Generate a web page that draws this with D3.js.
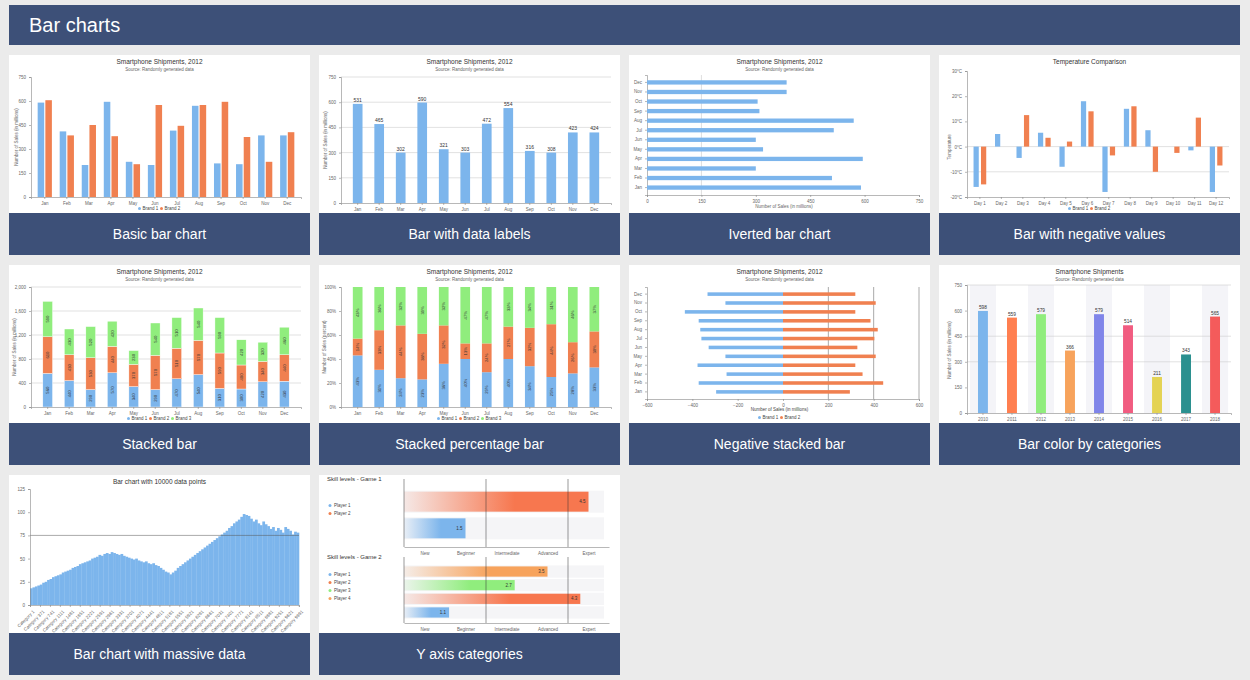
<!DOCTYPE html>
<html><head><meta charset="utf-8">
<script src="https://cdn.jsdelivr.net/npm/d3@7"></script>
<style>
body{margin:0;background:#ebebeb;font-family:"Liberation Sans",Arial,sans-serif}
svg text{font-family:"Liberation Sans",Arial,sans-serif}
.axis text{font-size:4.5px;fill:#666}
.axis path,.axis line{stroke:#888;stroke-width:.6}
</style></head><body>
<svg id="page" width="1250" height="680"></svg>
<script>
const months = ['Jan','Feb','Mar','Apr','May','Jun','Jul','Aug','Sep','Oct','Nov','Dec'];
const basicB1 = [590,410,200,595,220,200,415,570,210,205,385,385];
const basicB2 = [605,385,450,380,205,575,445,575,595,375,220,405];
const labelVals = [590,470,300,598,320,300,472,565,310,300,420,420];
const labelText = [531,465,302,590,321,303,472,554,316,308,423,424];
const invVals = [590,510,300,595,320,300,515,570,310,305,385,385];
const days = ['Day 1','Day 2','Day 3','Day 4','Day 5','Day 6','Day 7','Day 8','Day 9','Day 10','Day 11','Day 12'];
const tempB1 = [-16,5,-4.5,5.5,-8,18,-18,15,6.5,0,-1.5,-18];
const tempB2 = [-15,0,12.5,3.5,2,14,-3.5,16,-10,-2.5,11.5,-7.5];
const stackB1 = [560,440,290,570,340,290,470,540,310,300,420,430];
const stackB2 = [610,430,530,440,370,570,510,570,590,400,340,440];
const stackB3 = [590,430,520,420,230,540,510,540,590,420,320,460];
const pctB1 = [43,31,24,23,36,40,29,40,34,25,28,33];
const pctB2 = [14,33,44,38,32,13,24,27,32,44,26,30];
const pctB3 = [43,36,32,39,32,47,47,33,34,31,46,37];
const negB1 = [-295,-372,-249,-377,-254,-328,-360,-365,-372,-433,-254,-333];
const negB2 = [295,442,351,319,409,328,403,418,386,319,409,319];
const years = ['2010','2011','2012','2013','2014','2015','2016','2017','2018'];
const yearVals = [598,559,579,366,579,514,211,343,565];
const yearColors = ['#7cb5ec','#ff7f50','#90ed7d','#f7a35c','#8085e9','#f15c80','#e4d354','#2b908f','#f45b5b'];
const massive = [18,19,20,21,22,24,25,27,28,30,31,32,33,35,36,37,38,40,41,42,44,45,46,47,48,50,51,52,54,53,55,56,55,57,56,55,54,55,53,52,51,50,49,50,48,47,46,47,45,44,45,43,42,40,38,36,35,33,35,37,40,42,44,46,48,50,52,54,56,58,60,62,64,66,68,70,72,74,76,78,80,83,85,88,90,92,95,98,97,96,93,90,92,88,86,90,87,85,82,84,80,83,81,78,84,82,80,76,79,78];
const skillLevels = ['New','Beginner','Intermediate','Advanced','Expert'];
const game1 = [4.5,1.5];
const game1Colors = ['#f7774f','#7cb5ec'];
const game2 = [3.5,2.7,4.3,1.1];
const game2Colors = ['#f7a35c','#90ed7d','#f7774f','#7cb5ec'];
const cardLabels = ['Basic bar chart','Bar with data labels','Iverted bar chart','Bar with negative values','Stacked bar','Stacked percentage bar','Negative stacked bar','Bar color by categories','Bar chart with massive data','Y axis categories'];

const BLUE = '#7cb5ec', ORANGE = '#f08050', GREEN = '#90ed7d', HEAD = '#3d5078';
const colX = [9,319,629,939], rowY = [55,265,475], CW = 301, CH = 158;
const svg = d3.select('#page');

svg.append('rect').attr('x',9).attr('y',5).attr('width',1231).attr('height',40).attr('fill',HEAD);
svg.append('text').attr('x',29).attr('y',32).attr('fill','#fff').attr('font-size',20).text('Bar charts');

function card(i) {
  const x = colX[i % 4], y = rowY[Math.floor(i / 4)];
  const g = svg.append('g').attr('transform', `translate(${x},${y})`);
  g.append('rect').attr('width',CW).attr('height',CH).attr('fill','#fff');
  g.append('rect').attr('y',CH).attr('width',CW).attr('height',42).attr('fill',HEAD);
  g.append('text').attr('x',CW/2).attr('y',CH+26).attr('text-anchor','middle').attr('fill','#fff')
    .attr('font-size',14).text(cardLabels[i]);
  return g;
}
function titles(g, t, sub) {
  g.append('text').attr('x',CW/2).attr('y',9).attr('text-anchor','middle').attr('font-size',6.5).attr('fill','#333').text(t);
  if (sub) g.append('text').attr('x',CW/2).attr('y',16).attr('text-anchor','middle').attr('font-size',4.5).attr('fill','#666').text(sub);
}
function yTitle(g, x, y, t) {
  g.append('text').attr('transform',`translate(${x},${y}) rotate(-90)`).attr('text-anchor','middle')
    .attr('font-size',4.5).attr('fill','#666').text(t);
}
function grid(g, y, ticks, x0, x1) {
  g.selectAll(null).data(ticks).join('line').attr('x1',x0).attr('x2',x1)
    .attr('y1',d=>y(d)).attr('y2',d=>y(d)).attr('stroke','#ccc').attr('stroke-width',.6);
}
function legend(g, cx, y, names, colors) {
  const w = 22;
  names.forEach((n, k) => {
    const lx = cx - names.length * w / 2 + k * w;
    g.append('circle').attr('cx',lx+2).attr('cy',y-1.5).attr('r',1.5).attr('fill',colors[k]);
    g.append('text').attr('x',lx+5).attr('y',y).attr('font-size',4.5).attr('fill','#444').text(n);
  });
}
const SUB = 'Source: Randomly generated data';
const TITLE = 'Smartphone Shipments, 2012';
const YT = 'Number of Sales (in millions)';

// 1 basic
{
  const g = card(0); titles(g, TITLE, SUB);
  const x = d3.scaleBand().domain(months).range([22,292]).padding(0.25);
  const y = d3.scaleLinear().domain([0,750]).range([142,22]);
  g.append('g').attr('class','axis').attr('transform','translate(0,142)').call(d3.axisBottom(x).tickSize(2));
  g.append('g').attr('class','axis').attr('transform','translate(22,0)').call(d3.axisLeft(y).tickValues([0,150,300,450,600,750]).tickSize(2));
  const xs = d3.scaleBand().domain([0,1]).range([0,x.bandwidth()]).padding(0.15);
  [basicB1,basicB2].forEach((s,k)=>g.selectAll(null).data(s).join('rect')
    .attr('x',(d,i)=>x(months[i])+xs(k)).attr('width',xs.bandwidth())
    .attr('y',d=>y(d)).attr('height',d=>142-y(d)).attr('fill',k?ORANGE:BLUE));
  yTitle(g,9,82,YT); legend(g,CW/2,155,['Brand 1','Brand 2'],[BLUE,ORANGE]);
}
// 2 data labels
{
  const g = card(1); titles(g, TITLE, SUB);
  const x = d3.scaleBand().domain(months).range([22,292]).padding(0.55);
  const y = d3.scaleLinear().domain([0,750]).range([148,22]);
  grid(g,y,[150,300,450,600,750],22,292);
  g.append('g').attr('class','axis').attr('transform','translate(0,148)').call(d3.axisBottom(x).tickSize(2));
  g.append('g').attr('class','axis').attr('transform','translate(22,0)').call(d3.axisLeft(y).tickValues([0,150,300,450,600,750]).tickSize(2));
  g.selectAll(null).data(labelVals).join('rect').attr('x',(d,i)=>x(months[i])).attr('width',x.bandwidth())
    .attr('y',d=>y(d)).attr('height',d=>148-y(d)).attr('fill',BLUE);
  g.selectAll(null).data(labelVals).join('text').attr('x',(d,i)=>x(months[i])+x.bandwidth()/2).attr('y',d=>y(d)-2)
    .attr('text-anchor','middle').attr('font-size',5).attr('fill','#333').text((d,i)=>labelText[i]);
  yTitle(g,8,85,YT);
}
// 3 inverted
{
  const g = card(2); titles(g, TITLE, SUB);
  const y = d3.scaleBand().domain(months).range([140,20]).padding(0.55);
  const x = d3.scaleLinear().domain([0,750]).range([18,290]);
  g.selectAll(null).data([150]).join('line').attr('x1',x).attr('x2',x).attr('y1',20).attr('y2',140).attr('stroke','#bbb').attr('stroke-width',.5);
  g.append('g').attr('class','axis').attr('transform','translate(0,140)').call(d3.axisBottom(x).tickValues([0,150,300,450,600,750]).tickSize(2));
  g.append('g').attr('class','axis').attr('transform','translate(18,0)').call(d3.axisLeft(y).tickSize(2));
  g.selectAll(null).data(invVals).join('rect').attr('y',(d,i)=>y(months[i])).attr('height',y.bandwidth())
    .attr('x',x(0)).attr('width',d=>x(d)-x(0)).attr('fill',BLUE);
  g.append('text').attr('x',155).attr('y',153).attr('text-anchor','middle').attr('font-size',4.5).attr('fill','#666').text(YT);
}
// 4 negative
{
  const g = card(3); titles(g,'Temperature Comparison');
  const x = d3.scaleBand().domain(days).range([28,290]).padding(0.2);
  const y = d3.scaleLinear().domain([-20,30]).range([142,16]);
  grid(g,y,[0,-10],28,290);
  g.append('g').attr('class','axis').attr('transform','translate(0,142)').call(d3.axisBottom(x).tickSize(2));
  g.append('g').attr('class','axis').attr('transform','translate(28,0)').call(d3.axisLeft(y).ticks(5).tickFormat(d=>d+'°C').tickSize(2));
  const xs = d3.scaleBand().domain([0,1]).range([0,x.bandwidth()]).padding(0.3);
  [tempB1,tempB2].forEach((s,k)=>g.selectAll(null).data(s).join('rect')
    .attr('x',(d,i)=>x(days[i])+xs(k)).attr('width',xs.bandwidth())
    .attr('y',d=>y(Math.max(0,d))).attr('height',d=>Math.abs(y(d)-y(0))).attr('fill',k?ORANGE:BLUE));
  yTitle(g,12,92,'Temperature'); legend(g,CW/2,155,['Brand 1','Brand 2'],[BLUE,ORANGE]);
}
// 5 stacked
{
  const g = card(4); titles(g, TITLE, SUB);
  const x = d3.scaleBand().domain(months).range([22,292]).padding(0.55);
  const y = d3.scaleLinear().domain([0,2000]).range([142,22]);
  grid(g,y,[400,800,1200,1600,2000],22,292);
  const rows = months.map((m,i)=>({m,a:stackB1[i],b:stackB2[i],c:stackB3[i]}));
  const st = d3.stack().keys(['a','b','c'])(rows);
  const cols = [BLUE,ORANGE,GREEN];
  st.forEach((layer,k)=>{
    g.selectAll(null).data(layer).join('rect').attr('x',d=>x(d.data.m)).attr('width',x.bandwidth())
      .attr('y',d=>y(d[1])).attr('height',d=>y(d[0])-y(d[1])).attr('fill',cols[k]).attr('stroke','#fff').attr('stroke-width',.4);
    g.selectAll(null).data(layer).join('text')
      .attr('transform',d=>`translate(${x(d.data.m)+x.bandwidth()/2+1.5},${y((d[0]+d[1])/2)}) rotate(-90)`)
      .attr('text-anchor','middle').attr('font-size',4.2).attr('fill','#333').text(d=>d[1]-d[0]);
  });
  g.append('g').attr('class','axis').attr('transform','translate(0,142)').call(d3.axisBottom(x).tickSize(2));
  g.append('g').attr('class','axis').attr('transform','translate(22,0)').call(d3.axisLeft(y).tickValues([0,400,800,1200,1600,2000]).tickFormat(d3.format(',')).tickSize(2));
  yTitle(g,7,82,YT); legend(g,CW/2,155,['Brand 1','Brand 2','Brand 3'],cols);
}
// 6 stacked percent
{
  const g = card(5); titles(g, TITLE, SUB);
  const x = d3.scaleBand().domain(months).range([22,292]).padding(0.55);
  const y = d3.scaleLinear().domain([0,100]).range([142,22]);
  const rows = months.map((m,i)=>({m,a:pctB1[i],b:pctB2[i],c:pctB3[i]}));
  const st = d3.stack().keys(['a','b','c'])(rows);
  const cols = [BLUE,ORANGE,GREEN];
  st.forEach((layer,k)=>{
    g.selectAll(null).data(layer).join('rect').attr('x',d=>x(d.data.m)).attr('width',x.bandwidth())
      .attr('y',d=>y(d[1])).attr('height',d=>y(d[0])-y(d[1])).attr('fill',cols[k]);
    g.selectAll(null).data(layer).join('text')
      .attr('transform',d=>`translate(${x(d.data.m)+x.bandwidth()/2+1.5},${y((d[0]+d[1])/2)}) rotate(-90)`)
      .attr('text-anchor','middle').attr('font-size',4.2).attr('fill','#333').text(d=>(d[1]-d[0])+'%');
  });
  g.append('g').attr('class','axis').attr('transform','translate(0,142)').call(d3.axisBottom(x).tickSize(2));
  g.append('g').attr('class','axis').attr('transform','translate(22,0)').call(d3.axisLeft(y).ticks(5).tickFormat(d=>d+'%').tickSize(2));
  yTitle(g,7,82,'Number of Sales (percent)'); legend(g,CW/2,155,['Brand 1','Brand 2','Brand 3'],cols);
}
// 7 negative stacked
{
  const g = card(6); titles(g, TITLE, SUB);
  const y = d3.scaleBand().domain(months).range([134,22]).padding(0.6);
  const x = d3.scaleLinear().domain([-600,600]).range([18,290]);
  g.selectAll(null).data([200,400,600]).join('line').attr('x1',x).attr('x2',x).attr('y1',22).attr('y2',134).attr('stroke','#555').attr('stroke-width',.5);
  [negB1,negB2].forEach((s,k)=>g.selectAll(null).data(s).join('rect')
    .attr('y',(d,i)=>y(months[i])).attr('height',y.bandwidth())
    .attr('x',d=>x(Math.min(0,d))).attr('width',d=>Math.abs(x(d)-x(0))).attr('fill',k?ORANGE:BLUE));
  g.append('g').attr('class','axis').attr('transform','translate(0,134)').call(d3.axisBottom(x).tickValues([-600,-400,-200,0,200,400,600]).tickSize(2));
  g.append('g').attr('class','axis').attr('transform','translate(18,0)').call(d3.axisLeft(y).tickSize(2));
  g.append('text').attr('x',CW/2).attr('y',146).attr('text-anchor','middle').attr('font-size',4.5).attr('fill','#444').text(YT);
  legend(g,CW/2,154,['Brand 1','Brand 2'],[BLUE,ORANGE]);
}
// 8 colors by category
{
  const g = card(7); titles(g,'Smartphone Shipments', SUB);
  const x = d3.scaleBand().domain(years).range([28,292]).padding(0.1);
  const y = d3.scaleLinear().domain([0,750]).range([148,20]);
  g.selectAll(null).data(years.filter((d,i)=>i%2===0)).join('rect').attr('x',d=>x(d)).attr('width',x.bandwidth()).attr('y',20).attr('height',128).attr('fill','#f4f4f8');
  grid(g,y,[300,450,750],28,292);
  const inner = x.bandwidth()*0.38;
  g.selectAll(null).data(yearVals).join('rect').attr('x',(d,i)=>x(years[i])+(x.bandwidth()-inner)/2).attr('width',inner)
    .attr('y',d=>y(d)).attr('height',d=>148-y(d)).attr('fill',(d,i)=>yearColors[i]);
  g.selectAll(null).data(yearVals).join('text').attr('x',(d,i)=>x(years[i])+x.bandwidth()/2).attr('y',d=>y(d)-2)
    .attr('text-anchor','middle').attr('font-size',4.8).attr('fill','#333').text(d=>d);
  g.append('g').attr('class','axis').attr('transform','translate(0,148)').call(d3.axisBottom(x).tickSize(2));
  g.append('g').attr('class','axis').attr('transform','translate(28,0)').call(d3.axisLeft(y).tickValues([0,150,300,450,600,750]).tickSize(2));
  yTitle(g,12,85,YT);
}
// 9 massive
{
  const g = card(8); titles(g,'Bar chart with 10000 data points');
  const x = d3.scaleBand().domain(d3.range(massive.length)).range([21,290]);
  const y = d3.scaleLinear().domain([0,125]).range([130,14]);
  const xa = d3.scaleLinear().domain([0,10000]).range([21,290]);
  g.selectAll(null).data(massive).join('rect').attr('x',(d,i)=>x(i)).attr('width',x.bandwidth()+0.3)
    .attr('y',d=>y(d)).attr('height',d=>130-y(d)).attr('fill',BLUE);
  g.append('line').attr('x1',21).attr('x2',290).attr('y1',y(75)).attr('y2',y(75)).attr('stroke','#555').attr('stroke-width',.5);
  const ax = g.append('g').attr('class','axis').attr('transform','translate(0,130)')
    .call(d3.axisBottom(xa).tickValues(d3.range(1,10000,370)).tickFormat(d=>'Category '+d).tickSize(2));
  ax.selectAll('text').attr('transform','rotate(-45)').attr('text-anchor','end').attr('dx',-2).attr('dy',3);
  g.append('g').attr('class','axis').attr('transform','translate(21,0)').call(d3.axisLeft(y).tickValues([0,25,50,75,100,125]).tickSize(2));
}
// 10 y axis categories
{
  const g = card(9);
  const defs = svg.append('defs');
  function panel(top, h, title, vals, cols, names) {
    g.append('text').attr('x',8).attr('y',top+6).attr('font-size',6).attr('fill','#333').text(title);
    const x = d3.scaleLinear().domain([0,5]).range([85,290]);
    const y = d3.scaleBand().domain(d3.range(vals.length)).range([top+10,top+h]).padding(0.25);
    g.selectAll(null).data(vals).join('rect').attr('x',85).attr('width',200).attr('y',(d,i)=>y(i)-1).attr('height',y.bandwidth()+2).attr('fill','#f5f5f7');
    vals.forEach((v,i)=>{
      const id = 'gr'+top+'_'+i;
      const lg = defs.append('linearGradient').attr('id',id);
      lg.append('stop').attr('offset','0%').attr('stop-color',cols[i]).attr('stop-opacity',0.1);
      lg.append('stop').attr('offset','60%').attr('stop-color',cols[i]);
      g.append('rect').attr('x',85).attr('width',x(v)-85).attr('y',y(i)).attr('height',y.bandwidth()).attr('fill',`url(#${id})`);
      g.append('text').attr('x',x(v)-3).attr('y',y(i)+y.bandwidth()/2+1.6).attr('text-anchor','end').attr('font-size',4.5).attr('fill','#333').text(v);
    });
    [2,4].forEach(t=>g.append('line').attr('x1',x(t)).attr('x2',x(t)).attr('y1',top+4).attr('y2',top+h+2).attr('stroke','#333').attr('stroke-width',.5));
    const ax = g.append('g').attr('class','axis').attr('transform',`translate(0,${top+h+2})`)
      .call(d3.axisBottom(x).tickValues([0.5,1.5,2.5,3.5,4.5]).tickFormat((d,i)=>skillLevels[i]).tickSize(0));
    ax.selectAll('text').attr('dy',5);
    g.append('line').attr('x1',85).attr('x2',85).attr('y1',top+4).attr('y2',top+h+2).attr('stroke','#333').attr('stroke-width',.5);
    const ly = top + h/2 - names.length*4 + 5;
    names.forEach((n,k)=>{
      g.append('circle').attr('cx',11).attr('cy',ly+k*8-1.5).attr('r',1.5).attr('fill',[BLUE,ORANGE,GREEN,'#f7a35c'][k]);
      g.append('text').attr('x',15).attr('y',ly+k*8).attr('font-size',4.5).attr('fill','#444').text(n);
    });
  }
  panel(0,70,'Skill levels - Game 1',game1,game1Colors,['Player 1','Player 2']);
  panel(78,68,'Skill levels - Game 2',game2,game2Colors,['Player 1','Player 2','Player 3','Player 4']);
}
</script></body></html>
